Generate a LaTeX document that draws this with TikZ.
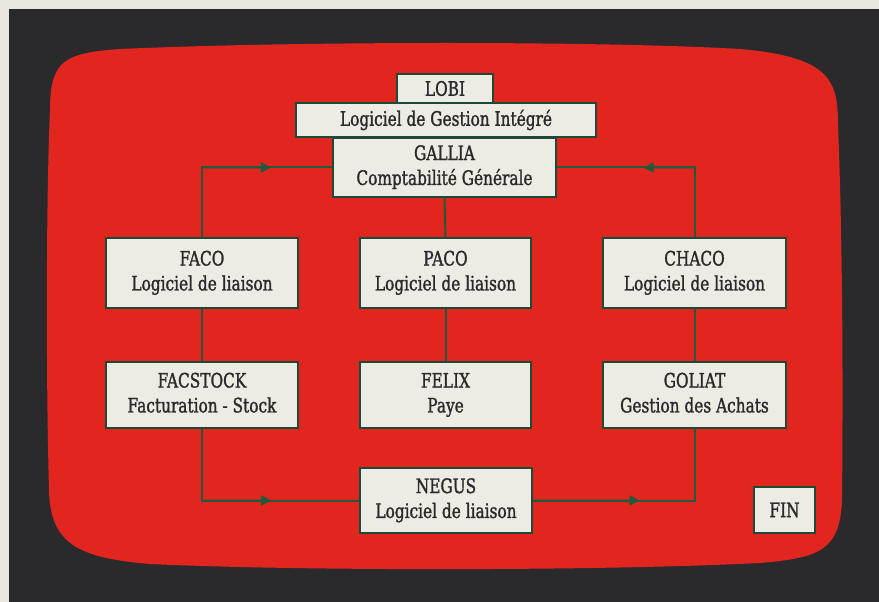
\documentclass[tikz,border=0pt]{standalone}
\usepackage{fontspec}
\setmainfont{DejaVu Serif}[FakeStretch=0.77,FakeBold=1.3]
\usetikzlibrary{arrows.meta,calc}
\definecolor{paper}{HTML}{E9E7DD}
\definecolor{frame}{HTML}{2A2A2C}
\definecolor{screen}{HTML}{E0261F}
\definecolor{boxfill}{HTML}{ECEBE4}
\definecolor{boxline}{HTML}{1D4A36}
\definecolor{linecol}{HTML}{1F5A3C}
\definecolor{txt}{HTML}{2A2A2A}
\newcommand{\twol}[2]{\strut #1\\\strut #2}
\tikzset{
  box/.style={draw=boxline, line width=1.8bp, fill=boxfill, inner sep=0pt, align=center,
    text=txt, font=\fontsize{20}{25}\selectfont},
  conn/.style={draw=linecol, line width=2bp},
  arr/.style={conn, -{Triangle[length=10bp,width=10bp]}}
}
\begin{document}
\begin{tikzpicture}[x=1bp,y=-1bp]
\useasboundingbox (0,0) rectangle (879,602);
\fill[paper] (0,0) rectangle (879,602);
\fill[frame] (9,9) rectangle (879,602);
\fill[screen] (120,49) .. controls (300,41) and (600,41) .. (740,49)
  .. controls (830,57) and (838,80) .. (838,125)
  .. controls (843,250) and (843,400) .. (842,500)
  .. controls (840,550) and (820,558) .. (760,563)
  .. controls (600,571) and (300,571) .. (150,564)
  .. controls (80,558) and (50,545) .. (49,490)
  .. controls (46,380) and (46,200) .. (50,110)
  .. controls (50,60) and (65,53) .. (120,49) -- cycle;

\node[box, minimum width=192bp, minimum height=70bp] (FACO) at (202,273) {\twol{FACO}{Logiciel de liaison}};
\node[box, minimum width=171bp, minimum height=70bp] (PACO) at (445.5,273) {\twol{PACO}{Logiciel de liaison}};
\node[box, minimum width=183bp, minimum height=70bp] (CHACO) at (694.5,273) {\twol{CHACO}{Logiciel de liaison}};
\node[box, minimum width=192bp, minimum height=66bp] (FACSTOCK) at (202,395) {\twol{FACSTOCK}{Facturation - Stock}};
\node[box, minimum width=171bp, minimum height=66bp] (FELIX) at (445.5,395) {\twol{FELIX}{Paye}};
\node[box, minimum width=183bp, minimum height=66bp] (GOLIAT) at (694.5,395) {\twol{GOLIAT}{Gestion des Achats}};
\node[box, minimum width=172bp, minimum height=65bp] (NEGUS) at (446,500.5) {\twol{NEGUS}{Logiciel de liaison}};
\node[box, minimum width=61bp, minimum height=46bp] (FIN) at (784.5,510) {FIN};
\node[box, minimum width=96bp, minimum height=29bp] (LOBI) at (445,88.5) {LOBI};
\node[box, minimum width=223bp, minimum height=59bp] (GALLIA) at (444.5,167.5) {\twol{GALLIA}{Comptabilité Générale}};
\node[box, minimum width=300bp, minimum height=34bp] (LGI) at (446,120) {Logiciel de Gestion Intégré};

\coordinate (tl) at (FACO.north |- GALLIA.west);
\coordinate (tr) at (CHACO.north |- GALLIA.east);
\coordinate (bl) at (FACSTOCK.south |- NEGUS.west);
\coordinate (br) at (GOLIAT.south |- NEGUS.east);

\draw[conn] (FACO.north) -- (tl) -- (GALLIA.west);
\draw[arr] (tl) -- ($(tl)!0.53!(GALLIA.west)$);
\draw[conn] (CHACO.north) -- (tr) -- (GALLIA.east);
\draw[arr] (tr) -- ($(tr)!0.37!(GALLIA.east)$);
\draw[conn] (GALLIA.south) -- (PACO.north);
\draw[conn] (FACO.south) -- (FACSTOCK.north);
\draw[conn] (PACO.south) -- (FELIX.north);
\draw[conn] (CHACO.south) -- (GOLIAT.north);
\draw[conn] (FACSTOCK.south) -- (bl) -- (NEGUS.west);
\draw[arr] (bl) -- ($(bl)!0.44!(NEGUS.west)$);
\draw[conn] (NEGUS.east) -- (br) -- (GOLIAT.south);
\draw[arr] (NEGUS.east) -- ($(NEGUS.east)!0.66!(br)$);
\end{tikzpicture}
\end{document}
